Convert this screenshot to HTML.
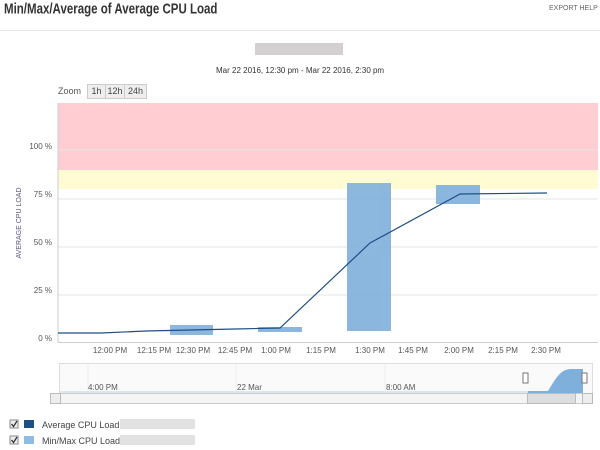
<!DOCTYPE html>
<html><head><style>
body{margin:0;width:600px;height:450px;background:#fff;font-family:"Liberation Sans",sans-serif;overflow:hidden;position:relative}
.t{position:absolute;white-space:nowrap}
.b{position:absolute;top:84px;height:13px;background:#eee;border:1px solid #ccc;font-size:9px;color:#444;line-height:13px;text-align:center}
</style></head><body>
<div class="t" style="left:4px;top:2px;font-size:11.5px;font-weight:bold;color:#333;transform:scaleY(1.25);transform-origin:0 0">Min/Max/Average of Average CPU Load</div>
<div class="t" style="left:549px;top:5px;font-size:7px;color:#666">EXPORT HELP</div>
<div style="position:absolute;left:0;top:30px;width:600px;height:1px;background:#e6e6e6"></div>
<div style="position:absolute;left:255px;top:43px;width:88px;height:12px;background:#d4d0d2"></div>
<div class="t" style="left:216px;top:66px;font-size:8px;color:#333">Mar 22 2016, 12:30 pm - Mar 22 2016, 2:30 pm</div>
<div class="t" style="left:58px;top:86px;font-size:9px;color:#555">Zoom</div>
<div class="b" style="left:87px;width:17px">1h</div>
<div class="b" style="left:105px;width:18px">12h</div>
<div class="b" style="left:124px;width:21px">24h</div>
<svg width="600" height="450" style="position:absolute;left:0;top:0" font-family="Liberation Sans" font-size="8" fill="#555">
<rect x="58" y="103" width="540" height="67" fill="#ffcdd2"/>
<rect x="58" y="170" width="540" height="19" fill="#fffcd4"/>
<g stroke="#e6e6e6" stroke-width="1"><line x1="58" x2="598" y1="150" y2="150"/><line x1="58" x2="598" y1="199" y2="199"/><line x1="58" x2="598" y1="247" y2="247"/><line x1="58" x2="598" y1="295" y2="295"/></g>
<line x1="58" x2="58" y1="103" y2="343" stroke="#ccc"/>
<line x1="58" x2="598" y1="342.5" y2="342.5" stroke="#ccc"/>
<g text-anchor="end"><text x="52" y="149">100 %</text><text x="52" y="197">75 %</text><text x="52" y="245">50 %</text><text x="52" y="293">25 %</text><text x="52" y="341">0 %</text></g>
<text transform="translate(21,223) rotate(-90)" text-anchor="middle" font-size="7" fill="#557">AVERAGE CPU LOAD</text>
<g fill="#7fb0dc" opacity="0.9"><rect x="170" y="325" width="43" height="10"/><rect x="258" y="327" width="44" height="5"/><rect x="347" y="183" width="44" height="148"/><rect x="436" y="185" width="44" height="19"/></g>
<polyline fill="none" stroke="#1f4e86" stroke-width="1.2" points="58,333 101,333 146,331 190,330 235,329 280,328 370,243 460,194 547,193"/>
<g text-anchor="middle"><text x="110" y="353">12:00 PM</text><text x="154" y="353">12:15 PM</text><text x="193" y="353">12:30 PM</text><text x="235" y="353">12:45 PM</text><text x="276" y="353">1:00 PM</text><text x="321" y="353">1:15 PM</text><text x="370" y="353">1:30 PM</text><text x="413" y="353">1:45 PM</text><text x="459" y="353">2:00 PM</text><text x="503" y="353">2:15 PM</text><text x="546" y="353">2:30 PM</text></g>
<rect x="59.5" y="363.5" width="533" height="30" fill="#fafafa" stroke="#ddd"/>
<g stroke="#eee"><line x1="88" x2="88" y1="364" y2="393"/><line x1="236" x2="236" y1="364" y2="393"/><line x1="385" x2="385" y1="364" y2="393"/></g>
<path d="M60,391 L530,391 L530,393 L60,393Z" fill="#dbe8f4"/>
<path d="M528,391 L548,391 C556,378 560,370 570,369 L583,369 L583,393 L528,393Z" fill="#7fb0dc"/>
<text x="88" y="390">4:00 PM</text><text x="237" y="390">22 Mar</text><text x="386" y="390">8:00 AM</text>
<rect x="523" y="373" width="5" height="10" fill="#fff" stroke="#777"/><rect x="582" y="373" width="5" height="10" fill="#fff" stroke="#777"/>
<rect x="50.5" y="393.5" width="542" height="10" fill="#f4f4f4" stroke="#ccc"/>
<rect x="527.5" y="393.5" width="48" height="10" fill="#ddd" stroke="#bbb"/>
<rect x="582.5" y="393.5" width="10" height="10" fill="#eee" stroke="#bbb"/>
<rect x="50.5" y="393.5" width="10" height="10" fill="#eee" stroke="#bbb"/>
<rect x="10" y="420" width="8" height="8" fill="#eee" stroke="#888"/><rect x="10" y="436" width="8" height="8" fill="#eee" stroke="#888"/>
<path d="M11.5,424 L13.5,426.5 L17,421 M11.5,440 L13.5,442.5 L17,437" stroke="#333" stroke-width="1.3" fill="none"/>
<rect x="24" y="420" width="10" height="8" fill="#1f4e86"/><rect x="24" y="436" width="10" height="8" fill="#8fbce3"/>
<text x="42" y="428" font-size="9" fill="#444">Average CPU Load</text><text x="42" y="444" font-size="9" fill="#444">Min/Max CPU Load</text>
<rect x="120" y="419" width="75" height="10" fill="#e2e2e2"/><rect x="120" y="435" width="75" height="10" fill="#e2e2e2"/>
</svg>
</body></html>
